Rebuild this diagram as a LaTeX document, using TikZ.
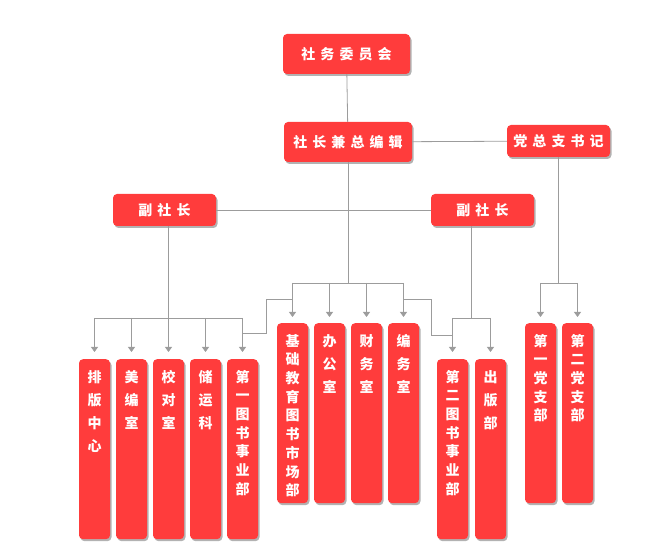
\documentclass[tikz,border=0pt]{standalone}
\usepackage{fontspec}
\newfontfamily\cjk{Noto Sans CJK SC}
\newfontfamily\cjkwide{Noto Sans CJK SC}[LetterSpace=36]
\usetikzlibrary{arrows.meta,shadows}
\definecolor{boxred}{HTML}{FF3C3C}
\definecolor{linegray}{HTML}{9C9C9C}
\tikzset{%
    box/.style={rectangle, rounded corners=4pt, fill=boxred, text=white,
    	drop shadow={shadow xshift=1.5pt, shadow yshift=-2pt, fill=black, opacity=.3}},
    head/.style={box, minimum width=103pt, minimum height=32pt, inner sep=0pt,
    	font=\cjkwide\bfseries\fontsize{14}{14}\selectfont},
    col/.style={box, anchor=north, text width=31pt, align=center, inner sep=0pt,
    	text height=23pt, text depth=157pt,
    	font=\cjk\bfseries\fontsize{14}{23}\selectfont},
    coltight/.style={col, font=\cjk\bfseries\fontsize{14}{18.7}\selectfont},
    link/.style={draw=linegray, line width=.8pt},
    arr/.style={link, -{Triangle[width=7pt,length=5pt]}}
}
\begin{document}
\begin{tikzpicture}[x=1pt, y=-1pt]
  \useasboundingbox (0,0) rectangle (665,553);

  % heads
  \node (wy) [head, minimum width=127pt, minimum height=40pt] at (346.5,54) {社务委员会};
  \node (sz) [head, minimum width=128pt, minimum height=40pt] at (348,142) {社长兼总编辑};
  \node (dz) [head] at (558.5,141) {党总支书记};
  \node (fl) [head] at (164.5,210) {副社长};
  \node (fr) [head] at (482.5,210) {副社长};

  % columns
  \node (pb) [col] at (94.5,359) {排\\版\\中\\心};
  \node (mb) [col] at (131.5,359) {美\\编\\室};
  \node (jd) [col] at (168.5,359) {校\\对\\室};
  \node (cy) [col] at (205.5,359) {储\\运\\科};
  \node (ty) [coltight] at (242.5,359) {第\\一\\图\\书\\事\\业\\部};

  \node (jc) [coltight] at (292.5,323) {基\\础\\教\\育\\图\\书\\市\\场\\部};
  \node (bg) [col] at (329.5,323) {办\\公\\室};
  \node (cw) [col] at (366.5,323) {财\\务\\室};
  \node (bw) [col] at (403.5,323) {编\\务\\室};

  \node (dr) [coltight] at (452.5,359) {第\\二\\图\\书\\事\\业\\部};
  \node (cb) [col] at (490.5,359) {出\\版\\部};

  \node (d1) [coltight] at (540.5,323) {第\\一\\党\\支\\部};
  \node (d2) [coltight] at (577.5,323) {第\\二\\党\\支\\部};

  \coordinate (mbar) at (0,283);
  \coordinate (lbar) at (0,318);
  \coordinate (rbar) at (471.5,318);
  \coordinate (lstep) at (0,333);
  \coordinate (rstep) at (0,335);
  \coordinate (ljog) at (266,299);
  \coordinate (rjog) at (431,299);

  \draw[link] (wy) -- (sz);
  \draw[link] (sz) -- (dz);
  \draw[link] (fl) -- (fr);

  \draw[link] (sz.south) -- (sz.south |- mbar);
  \draw[link] (jc.north |- mbar) -- (bw.north |- mbar);
  \foreach \n in {jc,bg,cw,bw}
    \draw[arr] (\n.north |- mbar) -- ([yshift=6pt]\n.north);

  \draw[link] (jd.north |- fl.south) -- (jd.north |- lbar);
  \draw[link] (pb.north |- lbar) -- (ty.north |- lbar);
  \foreach \n in {pb,mb,jd,cy,ty}
    \draw[arr] (\n.north |- lbar) -- ([yshift=7pt]\n.north);

  \draw[link] (ty.north |- lstep) -| (ljog) -- (jc.north |- ljog);
  \draw[link] (bw.north |- rjog) -- (rjog) |- (dr.north |- rstep);

  \draw[link] (rbar |- fr.south) -- (rbar);
  \draw[link] (dr.north |- rbar) -- (cb.north |- rbar);
  \foreach \n in {dr,cb}
    \draw[arr] (\n.north |- rbar) -- ([yshift=7pt]\n.north);

  \draw[link] (dz) -- (dz |- mbar);
  \draw[link] (d1.north |- mbar) -- (d2.north |- mbar);
  \foreach \n in {d1,d2}
    \draw[arr] (\n.north |- mbar) -- ([yshift=6pt]\n.north);
\end{tikzpicture}
\end{document}
